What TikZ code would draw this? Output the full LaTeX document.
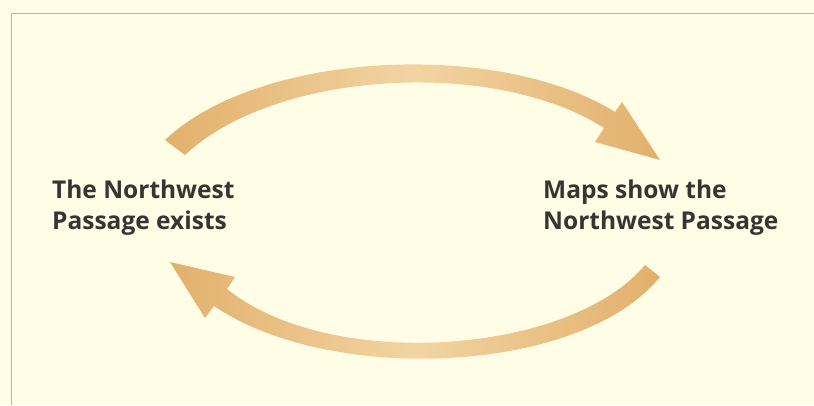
\documentclass[tikz,border=0pt]{standalone}
\usepackage{fontspec}
\setmainfont{Open Sans}
\definecolor{bg}{HTML}{FFFDE6}
\definecolor{frame}{HTML}{D4B07C}
\definecolor{txt}{HTML}{353532}
\definecolor{arrA}{HTML}{E2B06C}
\definecolor{arrB}{HTML}{F2D4A2}
\tikzset{
  lbl/.style={anchor=north west, inner sep=0pt, align=left, text=txt,
    font=\fontsize{24.5}{31}\selectfont\bfseries},
  bigarrow/.style={left color=arrA, right color=arrA, middle color=arrB, draw=none}
}
\begin{document}
\begin{tikzpicture}[x=1pt,y=-1pt]
\useasboundingbox (0,0) rectangle (814,405);
\fill[bg] (0,0) rectangle (814,405);
\coordinate (fa) at (11,405);
\coordinate (fb) at (11,13);
\coordinate (fc) at (814,13);
\draw[frame, line width=1pt] (fa) -- (fb) -- (fc);
% top arrow
\path[bigarrow] (165,140) .. controls (260,50) and (500,40) .. (615,112)
  -- (622,102) -- (660,160) -- (595,142) -- (604,128)
  .. controls (495,58) and (275,70) .. (185,155) -- cycle;
% bottom arrow
\path[bigarrow] (660,277) .. controls (580,375) and (330,385) .. (214,306)
  -- (205,318) -- (170,262) -- (235,277) -- (227,289)
  .. controls (330,372) and (570,355) .. (645,265) -- cycle;
\node[lbl] (left) at (52,180) {The Northwest\\Passage exists};
\node[lbl] (right) at (543,180) {Maps show the\\Northwest Passage};
\end{tikzpicture}
\end{document}
